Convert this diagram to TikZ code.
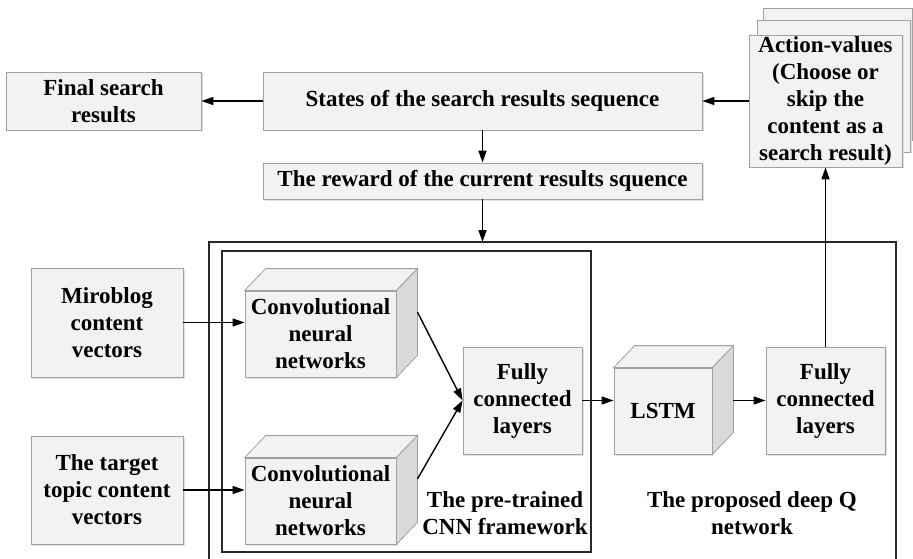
\documentclass[tikz,border=0pt]{standalone}
\usepackage{fontspec}
\setmainfont{Liberation Serif}
\usetikzlibrary{arrows.meta,shadows}

\definecolor{boxfill}{RGB}{242,242,242}
\definecolor{boxline}{RGB}{160,160,160}
\definecolor{sidefill}{RGB}{217,217,217}
\definecolor{frameline}{RGB}{40,40,40}
\definecolor{shadowblue}{RGB}{205,220,238}

\tikzset{
    blockbox/.style={draw=boxline, fill=boxfill, line width=0.8pt, align=center, inner sep=1pt,
        font=\fontsize{23}{27}\selectfont\bfseries,
        drop shadow={shadow xshift=1.5pt, shadow yshift=-1.5pt, fill=shadowblue, opacity=0.8}},
    cubeface/.style={draw=boxline, fill=#1, line width=0.8pt},
    flow/.style={line width=1.4pt, -{Triangle[length=12pt,width=8pt]}},
    framebox/.style={draw=frameline, line width=1.5pt},
    caption/.style={align=center, font=\fontsize{23}{27}\selectfont\bfseries}
}

% top and side faces of a cube on a front face node
\newcommand{\cubefaces}[1]{%
    \draw [cubeface=boxfill] (#1.north west) -- ++(21,-22) -- ([shift={(21pt,22pt)}]#1.north east) -- (#1.north east) -- cycle;
    \draw [cubeface=sidefill] (#1.north east) -- ([shift={(21pt,22pt)}]#1.north east) -- ([shift={(21pt,22pt)}]#1.south east) -- (#1.south east) -- cycle;
}

\begin{document}
\begin{tikzpicture}[x=1pt,y=-1pt]
    \useasboundingbox (0,0) rectangle (913,559);

    % frames of the two networks
    \draw [framebox] (209,565) -- (209,242) -- (896,242) -- (896,565);
    \coordinate (qtop) at (482.5,242);
    \draw [framebox] (222,251) rectangle (591,552);

    % stacked action-value boxes
    \node [blockbox, minimum width=149pt, minimum height=132pt] (act3) at (838,74) {};
    \node [blockbox, minimum width=153pt, minimum height=132pt] (act2) at (833.5,86) {};
    \node [blockbox, minimum width=153pt, minimum height=132pt] (act) at (825.5,101) {Action-values\\(Choose or\\skip the\\content as a\\search result)};

    % top row
    \node [blockbox, minimum width=195pt, minimum height=58pt] (final) at (103.5,101) {Final search\\results};
    \node [blockbox, minimum width=439pt, minimum height=58pt] (states) at (482.5,101) {States of the search results sequence};
    \node [blockbox, minimum width=439pt, minimum height=36pt] (reward) at (482.5,181) {The reward of the current results squence};

    % inputs
    \node [blockbox, minimum width=152pt, minimum height=109pt] (miro) at (107,322.5) {Miroblog\\content\\vectors};
    \node [blockbox, minimum width=152pt, minimum height=108pt] (target) at (107,490) {The target\\topic content\\vectors};

    % CNN cubes
    \node [blockbox, minimum width=151pt, minimum height=86pt] (cnn1) at (320.5,334) {Convolutional\\neural\\networks};
    \cubefaces{cnn1}
    \node [blockbox, minimum width=151pt, minimum height=86pt] (cnn2) at (320.5,501) {Convolutional\\neural\\networks};
    \cubefaces{cnn2}

    \node [blockbox, minimum width=119pt, minimum height=107pt] (fc1) at (522.5,400.5) {Fully\\connected\\layers};
    \node [blockbox, minimum width=98pt, minimum height=86pt] (lstm) at (663,411) {LSTM};
    \cubefaces{lstm}
    \node [blockbox, minimum width=119pt, minimum height=107pt] (fc2) at (825.5,400.5) {Fully\\connected\\layers};

    \node [caption] (cnncap) at (505,513) {The pre-trained\\CNN framework};
    \node [caption] (qcap) at (752,513) {The proposed deep Q\\network};

    % connectors
    \draw [flow] (states.west) -- (final.east);
    \draw [flow] (act.west) -- (states.east);
    \draw [flow] (states.south) -- (reward.north);
    \draw [flow] (reward.south) -- (qtop);
    \draw [flow] (miro.east) -- (miro.east -| cnn1.west);
    \draw [flow] (target.east) -- (target.east -| cnn2.west);
    \draw [flow] ([shift={(21pt,22pt)}]cnn1.east) -- (fc1.west);
    \draw [flow] ([shift={(21pt,22pt)}]cnn2.east) -- (fc1.west);
    \draw [flow] (fc1.east) -- (fc1.east -| lstm.west);
    \draw [flow] ([xshift=21pt]lstm.east |- fc2.west) -- (fc2.west);
    \draw [flow] (fc2.north) -- (act.south);
\end{tikzpicture}
\end{document}
